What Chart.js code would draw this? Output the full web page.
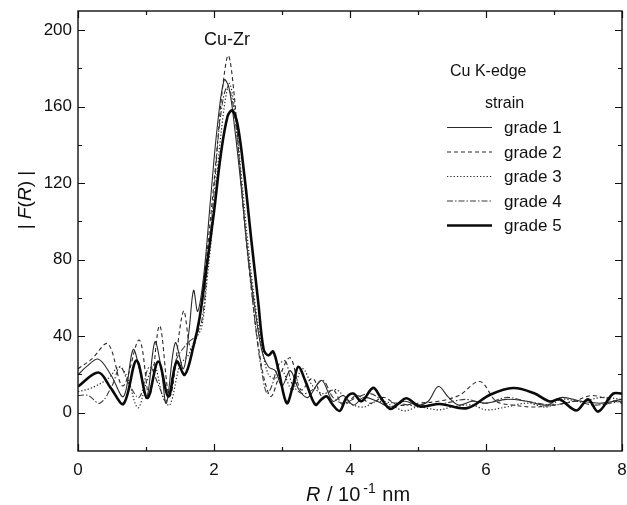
<!DOCTYPE html>
<html>
<head>
<meta charset="utf-8">
<script src="https://cdn.jsdelivr.net/npm/chart.js@4/dist/chart.umd.min.js"></script>
<style>
html,body{margin:0;padding:0;background:#fff;}
canvas{display:block;}
</style>
</head>
<body>
<canvas id="c" width="627" height="505"></canvas>
<script>
// ---- data ----
const seriesNames = ["grade 1", "grade 2", "grade 3", "grade 4", "grade 5"];

const r1 = [0.00,0.12,0.30,0.48,0.67,0.81,0.91,1.01,1.13,1.22,1.30,1.43,1.55,1.63,1.70,1.76,1.85,1.95,2.05,2.15,2.22,2.30,2.40,2.50,2.60,2.70,2.80,2.90,3.00,3.12,3.25,3.38,3.58,3.75,3.90,4.05,4.20,4.40,4.60,4.80,5.00,5.15,5.30,5.45,5.60,5.80,6.00,6.30,6.60,6.90,7.10,7.40,7.70,8.00];
const f1 = [19.8,24,28,20,8.5,33,22,7.7,37,24,5,36.5,23,42,64,53,72,112,150,174,170,150,118,82,55,33,24,22,14,22,12,8,17,6,9,4,8,6,3,6,4,6,13.7,8,4,6,5,7,6,4,8,6,5,7];

const r2 = [0.00,0.20,0.44,0.66,0.90,1.05,1.20,1.35,1.55,1.66,1.76,1.85,1.95,2.05,2.12,2.21,2.30,2.38,2.48,2.58,2.66,2.75,2.84,2.95,3.12,3.28,3.45,3.60,3.75,3.90,4.10,4.30,4.50,4.70,5.00,5.30,5.60,5.91,6.15,6.40,6.70,7.00,7.30,7.55,7.80,8.00];
const f2 = [23,28,36,14,38,8.5,45.5,8.5,53,33,42,68,102,140,168,186.7,165,128,88,55,33,16,8.5,18,28.7,12,18,8,12,4,9,5,8,4,5,6,9,16.3,6,4,3,4,6,9,7,5];

const r3 = [0.00,0.20,0.45,0.60,0.72,0.88,1.00,1.12,1.25,1.35,1.50,1.62,1.72,1.82,1.90,2.00,2.10,2.22,2.30,2.40,2.50,2.60,2.70,2.80,2.90,3.00,3.15,3.30,3.45,3.60,3.80,4.00,4.20,4.40,4.60,4.80,5.00,5.30,5.50,5.80,6.00,6.30,6.60,6.90,7.10,7.40,7.70,8.00];
const f3 = [11,13,18,24,19,2.6,15,25,8,4,25,30,38,45,70,105,145,172,160,125,88,58,35,20,18,22,12,23,14,10,12,5,3,6,4,1,3,1.5,3,4,1.5,3,5,3,7,6,8,7];

const r4 = [0.00,0.15,0.32,0.50,0.62,0.75,0.90,1.05,1.20,1.30,1.45,1.60,1.72,1.82,1.90,2.00,2.08,2.18,2.26,2.35,2.45,2.55,2.62,2.70,2.78,2.85,2.95,3.05,3.15,3.30,3.45,3.60,3.75,3.90,4.10,4.30,4.50,4.70,5.00,5.40,5.70,6.00,6.30,6.60,7.00,7.30,7.60,8.00];
const f4 = [9,9,5,14,24,15,8,24,13,6,28,36,40,48,75,115,150,170,165,140,100,65,42,22,10,14,25,27,15,10,12,17,8,5,8,10,6,5,3.5,5,7,5,8,6,4,6,4,6];

const r5 = [0.00,0.30,0.48,0.67,0.86,1.02,1.18,1.33,1.45,1.57,1.70,1.79,1.89,2.00,2.10,2.20,2.27,2.35,2.45,2.55,2.65,2.73,2.80,2.87,2.95,3.07,3.16,3.24,3.35,3.49,3.58,3.66,3.75,3.85,3.95,4.05,4.17,4.34,4.45,4.59,4.72,4.83,5.03,5.32,5.72,6.06,6.40,6.70,6.94,7.08,7.33,7.50,7.65,7.87,8.00];
const f5 = [13.7,21,13,4.7,27.3,7.7,26.8,8.5,26.8,19.8,35,50,76,105,135,155,158,150,123,90,58,33,30,32,22,5,14,24,16,4.2,7,8.5,4,1,8,10,6,13,8,2,5,7.6,3.3,4.6,2.4,9.4,12.9,10.3,5.9,7,1.2,7,0.6,10,10];

const xTickVals = [0, 2, 4, 6, 8];
const xMinorVals = [1, 3, 5, 7];
const yTickVals = [0, 40, 80, 120, 160, 200];
const yMinorVals = [20, 60, 100, 140, 180];

// ---- styles ----
const styles = [
  {color: "#2a2a2a", width: 1.1, dash: []},
  {color: "#2a2a2a", width: 1.1, dash: [4, 3]},
  {color: "#2a2a2a", width: 1.2, dash: [1.3, 2]},
  {color: "#3a3a3a", width: 1.1, dash: [6, 2, 1.5, 2]},
  {color: "#0a0a0a", width: 2.6, dash: []}
];

const rs = [r1, r2, r3, r4, r5];
const fs = [f1, f2, f3, f4, f5];

const datasets = seriesNames.map((name, i) => ({
  label: name,
  data: rs[i].map((r, k) => ({x: r, y: fs[i][k]})),
  borderColor: styles[i].color,
  borderWidth: styles[i].width,
  borderDash: styles[i].dash,
  pointRadius: 0,
  fill: false,
  showLine: true,
  tension: 0.35,
  order: 4 - i
}));

const FONT = "'Liberation Sans', Arial, sans-serif";

function drawRich(ctx, parts, x, y, align) {
  let total = 0;
  const ws = parts.map(p => {
    ctx.font = (p.italic ? "italic " : "") + p.size + "px " + FONT;
    const w = ctx.measureText(p.t).width + (p.gap || 0);
    total += w;
    return w;
  });
  let cx = align === "center" ? x - total / 2 : x;
  parts.forEach((p, i) => {
    ctx.font = (p.italic ? "italic " : "") + p.size + "px " + FONT;
    ctx.fillText(p.t, cx + (p.gap || 0), y + (p.sup ? -p.sup : 0));
    cx += ws[i];
  });
}

const decor = {
  id: "decor",
  afterDraw(chart) {
    const ctx = chart.ctx;
    const a = chart.chartArea;
    const xs = chart.scales.x, ys = chart.scales.y;
    ctx.save();
    ctx.strokeStyle = "#111";
    ctx.lineWidth = 1.4;
    ctx.setLineDash([]);
    ctx.strokeRect(a.left, a.top, a.right - a.left, a.bottom - a.top);
    ctx.lineWidth = 1.2;
    ctx.beginPath();
    const tick = (vals, len) => {
      vals.forEach(v => {
        const px = Math.round(xs.getPixelForValue(v)) + 0.5;
        ctx.moveTo(px, a.bottom); ctx.lineTo(px, a.bottom - len);
        ctx.moveTo(px, a.top); ctx.lineTo(px, a.top + len);
      });
    };
    const ytick = (vals, len) => {
      vals.forEach(v => {
        const py = Math.round(ys.getPixelForValue(v)) + 0.5;
        ctx.moveTo(a.left, py); ctx.lineTo(a.left + len, py);
        ctx.moveTo(a.right, py); ctx.lineTo(a.right - len, py);
      });
    };
    tick(xTickVals, 7); tick(xMinorVals, 4);
    ytick(yTickVals, 7); ytick(yMinorVals, 4);
    ctx.stroke();

    ctx.fillStyle = "#111";
    ctx.textBaseline = "alphabetic";
    ctx.textAlign = "left";
    drawRich(ctx, [
      {t: "R", italic: true, size: 20},
      {t: " / 10", size: 20, gap: 1},
      {t: "-1", size: 14, sup: 8, gap: 3},
      {t: " nm", size: 20, gap: 1}
    ], 306, 501, "left");
    ctx.save();
    ctx.translate(31, 200);
    ctx.rotate(-Math.PI / 2);
    drawRich(ctx, [
      {t: "| ", size: 19},
      {t: "F", italic: true, size: 19},
      {t: "(", size: 19},
      {t: "R", italic: true, size: 19},
      {t: ") |", size: 19}
    ], 0, 0, "center");
    ctx.restore();

    ctx.font = "18px " + FONT;
    ctx.textAlign = "center";
    ctx.fillText("Cu-Zr", 227, 45);

    ctx.textAlign = "left";
    ctx.font = "16px " + FONT;
    ctx.fillText("Cu K-edge", 450, 76);
    ctx.fillText("strain", 485, 108);
    ctx.font = "17px " + FONT;
    seriesNames.forEach((n, i) => {
      const y = 133 + i * 24.5;
      const st = styles[i];
      ctx.strokeStyle = st.color;
      ctx.lineWidth = st.width;
      ctx.setLineDash(st.dash);
      ctx.beginPath();
      ctx.moveTo(447, y - 5.5);
      ctx.lineTo(492, y - 5.5);
      ctx.stroke();
      ctx.setLineDash([]);
      ctx.fillStyle = "#111";
      ctx.fillText(n, 504, y);
    });
    ctx.restore();
  }
};

new Chart(document.getElementById("c"), {
  type: "scatter",
  data: {datasets},
  options: {
    responsive: false,
    animation: false,
    layout: {padding: {left: 0, right: 5, top: 11, bottom: 0}},
    plugins: {legend: {display: false}, tooltip: {enabled: false}},
    scales: {
      x: {
        type: "linear", min: 0, max: 8,
        afterBuildTicks: s => { s.ticks = xTickVals.map(v => ({value: v})); },
        afterFit: s => { s.height = 54; s.paddingLeft = 0; s.paddingRight = 0; },
        grid: {display: false, drawTicks: false},
        border: {display: false},
        ticks: {color: "#111", padding: 9, maxRotation: 0, font: {family: FONT, size: 17}}
      },
      y: {
        type: "linear", min: -20, max: 210,
        afterBuildTicks: s => { s.ticks = yTickVals.map(v => ({value: v})); },
        afterFit: s => { s.width = 78; s.paddingTop = 0; s.paddingBottom = 0; },
        grid: {display: false, drawTicks: false},
        border: {display: false},
        ticks: {color: "#111", padding: 6, font: {family: FONT, size: 17}}
      }
    }
  },
  plugins: [decor]
});
</script>
</body>
</html>
